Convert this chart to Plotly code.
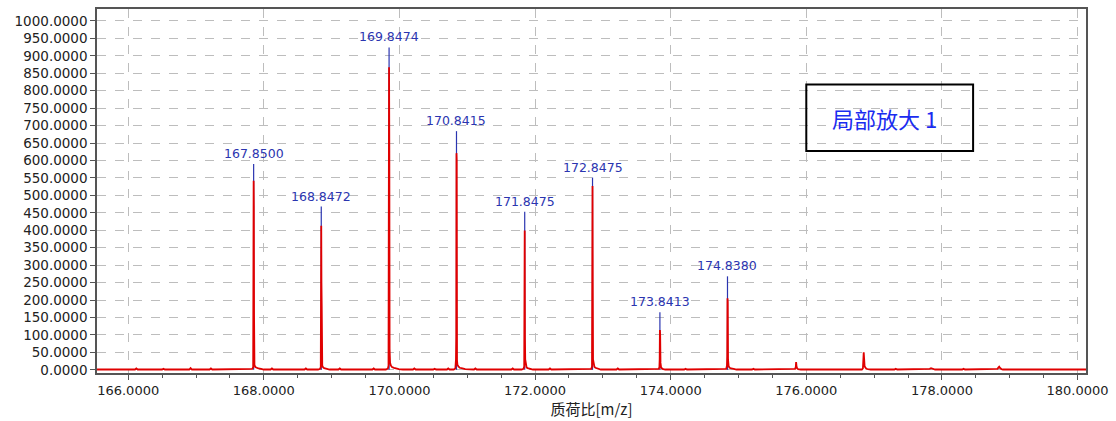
import plotly.graph_objects as go

# ---- data ----
# profile spectrum (m/z, intensity)
profile_mz = [
    165.54, 165.80, 166.10, 166.12, 166.14, 166.50, 166.52, 166.54, 166.90, 166.92, 166.94,
    167.20, 167.22, 167.24, 167.55, 167.57, 167.59,
    167.80, 167.83, 167.843, 167.846, 167.850, 167.853, 167.856, 167.862, 167.875, 167.89, 167.92, 167.96, 168.00, 168.10, 168.12, 168.14,
    168.30, 168.32, 168.34, 168.60, 168.62, 168.64,
    168.80, 168.83, 168.840, 168.844, 168.847, 168.850, 168.854, 168.862, 168.875, 168.89, 168.93, 168.97, 169.10, 169.12, 169.14,
    169.40, 169.42, 169.44, 169.60, 169.62, 169.64,
    169.80, 169.83, 169.839, 169.843, 169.847, 169.851, 169.855, 169.862, 169.875, 169.89, 169.92, 169.95, 169.99, 170.05, 170.20, 170.22, 170.24,
    170.50, 170.52, 170.54, 170.70, 170.72, 170.74,
    170.80, 170.825, 170.834, 170.838, 170.8415, 170.845, 170.849, 170.856, 170.87, 170.89, 170.93, 170.97, 171.10, 171.12, 171.14,
    171.40, 171.42, 171.44, 171.65, 171.67, 171.69,
    171.80, 171.83, 171.840, 171.844, 171.8475, 171.851, 171.855, 171.862, 171.875, 171.89, 171.93, 171.97, 172.20, 172.22, 172.24,
    172.50, 172.52, 172.54,
    172.80, 172.83, 172.840, 172.844, 172.8475, 172.851, 172.855, 172.862, 172.875, 172.89, 172.93, 172.97, 173.20, 173.22, 173.24,
    173.50, 173.52, 173.54,
    173.80, 173.825, 173.834, 173.838, 173.8413, 173.845, 173.850, 173.860, 173.88, 173.92, 174.20, 174.22, 174.24,
    174.50, 174.52, 174.54,
    174.80, 174.82, 174.830, 174.834, 174.838, 174.842, 174.846, 174.855, 174.87, 174.89, 174.93, 174.97, 175.20, 175.22, 175.24,
    175.50, 175.52, 175.54,
    175.82, 175.835, 175.845, 175.850, 175.856, 175.866, 175.88, 175.92,
    176.20, 176.22, 176.24, 176.60, 176.62, 176.64,
    176.82, 176.835, 176.842, 176.847, 176.852, 176.860, 176.870, 176.885, 176.91, 176.95,
    177.30, 177.32, 177.34,
    177.80, 177.82, 177.84, 177.86, 177.88, 177.90,
    178.30, 178.32, 178.34,
    178.80, 178.82, 178.835, 178.845, 178.855, 178.865, 178.88, 178.90,
    179.30, 179.32, 179.34, 179.70, 179.72, 179.74, 180.125,
]
profile_int = [
    1, 1, 1, 4, 1, 1, 3, 1, 1, 5, 1,
    1, 4, 1, 1, 3, 1,
    1, 3, 8, 456, 542, 470, 157, 14, 8, 6, 4, 3, 1, 1, 4, 1,
    1, 3, 1, 1, 4, 1,
    1, 3, 8, 277, 413, 250, 185, 12, 7, 5, 3, 1, 1, 4, 1,
    1, 3, 1, 1, 4, 1,
    1, 4, 12, 242, 867, 627, 60, 20, 12, 8, 6, 4, 2, 1, 1, 4, 1,
    1, 3, 1, 1, 4, 1,
    1, 4, 30, 94, 621, 599, 28, 14, 10, 6, 4, 2, 1, 4, 1,
    1, 3, 1, 1, 4, 1,
    1, 3, 10, 376, 399, 91, 30, 12, 7, 5, 3, 1, 1, 4, 1,
    1, 3, 1,
    1, 3, 10, 342, 527, 252, 30, 14, 9, 6, 3, 1, 1, 4, 1,
    1, 3, 1,
    1, 3, 8, 30, 114, 100, 20, 6, 3, 1, 1, 3, 1,
    1, 3, 1,
    1, 3, 12, 40, 205, 195, 30, 10, 6, 4, 3, 1, 1, 3, 1,
    1, 3, 1,
    1, 3, 8, 22, 10, 4, 2, 1,
    1, 3, 1, 1, 3, 1,
    1, 4, 30, 50, 35, 10, 6, 3, 2, 1,
    1, 3, 1,
    1, 3, 5, 4, 2, 1,
    1, 3, 1,
    1, 3, 7, 9, 6, 3, 2, 1,
    1, 3, 1, 1, 3, 1, 1,
]

# centroid peaks (labelled)
peak_mz = [167.8500, 168.8472, 169.8474, 170.8415, 171.8475, 172.8475, 173.8413, 174.8380]
peak_int = [590, 468, 924, 684, 453, 551, 165, 268]

x_tickvals = [166, 168, 170, 172, 174, 176, 178, 180]
y_tickvals = list(range(0, 1001, 50))
x_title = "质荷比[m/z]"
box_text = "局部放大 1"

# ---- figure ----
fig = go.Figure()

# centroid sticks (blue)
stick_x, stick_y = [], []
for m, h in zip(peak_mz, peak_int):
    stick_x += [m, m, None]
    stick_y += [0, h, None]
fig.add_trace(go.Scatter(x=stick_x, y=stick_y, mode="lines",
                         line=dict(color="#2b35b0", width=1.2),
                         hoverinfo="skip", showlegend=False))

# profile (red)
fig.add_trace(go.Scatter(x=profile_mz, y=profile_int, mode="lines",
                         line=dict(color="#e00000", width=1.8),
                         showlegend=False))

# peak labels
for m, h in zip(peak_mz, peak_int):
    fig.add_annotation(x=m, y=h, text=f"{m:.4f}", showarrow=False,
                       xanchor="center", yanchor="bottom", yshift=1,
                       font=dict(family="DejaVu Sans", size=12.5, color="#2b35b0"))

# boxed note
fig.add_shape(type="rect", xref="x", yref="y", x0=176.0, x1=178.46, y0=627, y1=818,
              line=dict(color="black", width=2), fillcolor="rgba(0,0,0,0)")
fig.add_annotation(x=177.16, y=722, text=box_text, showarrow=False,
                   xanchor="center", yanchor="middle",
                   font=dict(family="Noto Sans CJK SC", size=22, color="#1a2cf0"))

axis_common = dict(showline=True, linecolor="#555555", linewidth=1.5, mirror=True,
                   showgrid=True, gridcolor="#bdbdbd", griddash="dash", gridwidth=1,
                   zeroline=False, ticks="outside", ticklen=5, tickcolor="#555555")

fig.update_xaxes(range=[165.54, 180.125], tickvals=x_tickvals, tickformat=".4f",
                 tickfont=dict(family="DejaVu Sans", size=13, color="#222222"),
                 minor=dict(dtick=0.5, ticks="outside", ticklen=3, tickcolor="#555555", showgrid=False),
                 title=dict(text=x_title, standoff=4,
                            font=dict(family="Noto Sans CJK SC", size=15, color="#222222")),
                 **axis_common)
fig.update_yaxes(range=[-9, 1034], tickvals=y_tickvals, tickformat=".4f",
                 tickfont=dict(family="DejaVu Sans", size=13.5, color="#222222"),
                 **axis_common)

fig.update_layout(width=1116, height=421,
                  margin=dict(l=97, r=27, t=7, b=48),
                  paper_bgcolor="white", plot_bgcolor="white")

fig.write_html("out.html")
